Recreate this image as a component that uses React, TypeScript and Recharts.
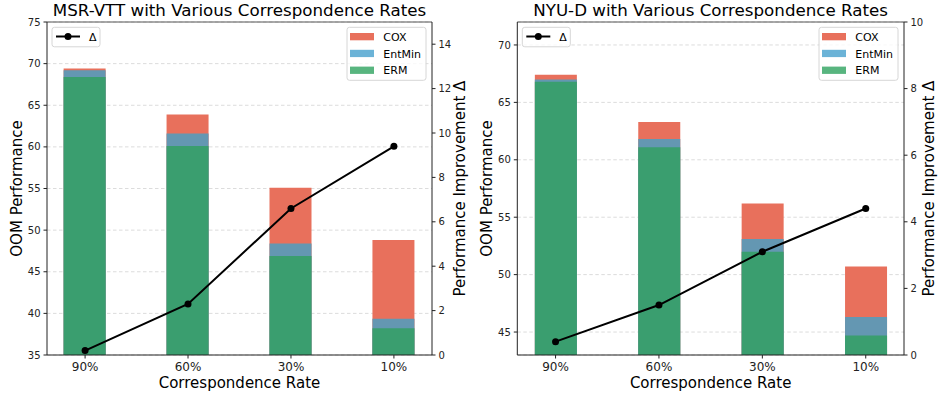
// Two-panel chart: OOM performance by correspondence rate (stacked-look bars) + improvement line
import { ComposedChart, Bar, Line, XAxis, YAxis, CartesianGrid, Legend, ReferenceLine } from 'recharts';

const rates = ['90%', '60%', '30%', '10%'];

// MSR-VTT
const msrErm = [68.4, 60.1, 46.9, 38.2];
const msrEntMin = [69.2, 61.6, 48.4, 39.35];
const msrCox = [69.4, 63.9, 55.1, 48.8];
const msrDelta = [0.2, 2.3, 6.6, 9.4];

// NYU-D
const nyuErm = [66.8, 61.1, 52.0, 44.7];
const nyuEntMin = [67.0, 61.8, 53.1, 46.3];
const nyuCox = [67.4, 63.3, 56.2, 50.7];
const nyuDelta = [0.4, 1.5, 3.1, 4.4];

const msrLeftTicks = [35, 40, 45, 50, 55, 60, 65, 70, 75];
const msrRightTicks = [0, 2, 4, 6, 8, 10, 12, 14];
const nyuLeftTicks = [45, 50, 55, 60, 65, 70];
const nyuRightTicks = [0, 2, 4, 6, 8, 10];

const seriesNames = ['COX', 'EntMin', 'ERM'];
const legendColors = ['#e8705c', '#6bb3d7', '#58b57f'];
const barColors = ['#e8705c', '#6497b2', '#3a9e6f'];

const FONT = '"DejaVu Sans", sans-serif';
const W = 469;
const H = 395;
const BAR = 42;

interface PanelProps {
  title: string;
  erm: number[];
  entMin: number[];
  cox: number[];
  delta: number[];
  leftDomain: [number, number];
  leftTicks: number[];
  rightDomain: [number, number];
  rightTicks: number[];
  plotLeft: number;
  plotRight: number;
  rightLabelOffset: number;
}

function Panel(p: PanelProps) {
  const data = rates.map((r, i) => ({
    x: i,
    rate: r,
    cox: p.cox[i],
    entMin: p.entMin[i],
    erm: p.erm[i],
    delta: p.delta[i],
  }));
  const leftW = 40;
  const rightW = W - p.plotRight;

  const overlay = () => {
    const pl = p.plotLeft;
    const pr = p.plotRight;
    return (
      <svg width={W} height={H} style={{ fontFamily: FONT }}>
        <text x={(pl + pr) / 2} y={16} textAnchor="middle" fontSize={16.7} fill="#000">{p.title}</text>
        <rect x={pl + 5} y={27.3} width={48} height={19.5} rx={2.5} fill="#fff" fillOpacity={0.8} stroke="#d6d6d6" />
        <line x1={pl + 9} x2={pl + 33} y1={36.5} y2={36.5} stroke="#000" strokeWidth={2} />
        <circle cx={pl + 21} cy={36.5} r={3.5} fill="#000" />
        <text x={pl + 42} y={40.5} fontSize={11} fill="#000">Δ</text>
        <rect x={pr - 85} y={27.3} width={79} height={53} rx={2.5} fill="#fff" fillOpacity={0.8} stroke="#d6d6d6" />
        {seriesNames.map((n, i) => (
          <g key={n}>
            <rect x={pr - 82} y={33 + i * 16.8} width={24} height={7.3} fill={legendColors[i]} />
            <text x={pr - 48.7} y={40.7 + i * 16.8} fontSize={11} fill="#000">{n}</text>
          </g>
        ))}
      </svg>
    );
  };

  return (
    <ComposedChart
      width={W}
      height={H}
      data={data}
      margin={{ top: 22, right: 0, bottom: 0, left: p.plotLeft - leftW }}
      barGap={-BAR}
      barSize={BAR}
      style={{ fontFamily: FONT }}
    >
      <CartesianGrid yAxisId="left" vertical={false} stroke="#dcdcdc" strokeDasharray="3.5 2.5" />
      <XAxis
        dataKey="x"
        type="number"
        domain={[-0.37, 3.37]}
        ticks={[0, 1, 2, 3]}
        tickFormatter={(v: number) => rates[v]}
        allowDataOverflow
        height={40}
        tickSize={3.5}
        tickMargin={4}
        stroke="#222"
        tick={{ fontSize: 12, fill: '#222' }}
        label={{ value: 'Correspondence Rate', position: 'insideBottom', offset: 7, fontSize: 15, fill: '#000' }}
      />
      <YAxis
        yAxisId="left"
        domain={p.leftDomain}
        ticks={p.leftTicks}
        allowDataOverflow
        width={leftW}
        tickSize={3.5}
        tickMargin={3}
        stroke="#222"
        tick={{ fontSize: 10, fill: '#222' }}
        label={{
          value: 'OOM Performance',
          angle: -90,
          position: 'insideLeft',
          offset: 9.5,
          fontSize: 15,
          fill: '#000',
          style: { textAnchor: 'middle' },
        }}
      />
      <YAxis
        yAxisId="right"
        orientation="right"
        domain={p.rightDomain}
        ticks={p.rightTicks}
        allowDataOverflow
        width={rightW}
        tickSize={3.5}
        tickMargin={3}
        stroke="#222"
        tick={{ fontSize: 10, fill: '#222' }}
        label={{
          value: 'Performance Improvement Δ',
          angle: -90,
          position: 'insideRight',
          offset: p.rightLabelOffset,
          fontSize: 15,
          fill: '#000',
          style: { textAnchor: 'middle' },
        }}
      />
      <Bar yAxisId="left" dataKey="cox" name="COX" fill={barColors[0]} isAnimationActive={false} />
      <Bar yAxisId="left" dataKey="entMin" name="EntMin" fill={barColors[1]} isAnimationActive={false} />
      <Bar yAxisId="left" dataKey="erm" name="ERM" fill={barColors[2]} isAnimationActive={false} />
      <ReferenceLine yAxisId="left" y={p.leftDomain[1]} stroke="#555" />
      <Line
        yAxisId="right"
        dataKey="delta"
        name="Δ"
        stroke="#000"
        strokeWidth={2}
        dot={{ r: 3.5, fill: '#000', stroke: '#000', strokeWidth: 0 }}
        isAnimationActive={false}
      />
      <Legend
        layout="vertical"
        align="center"
        verticalAlign="middle"
        content={overlay}
        wrapperStyle={{ position: 'absolute', left: 0, top: 0, width: W, height: H, pointerEvents: 'none' }}
      />
    </ComposedChart>
  );
}

export default function App() {
  return (
    <div style={{ position: 'absolute', left: 0, top: 0, width: 938, height: 395, display: 'flex', background: '#fff', fontFamily: FONT }}>
      <Panel
        title="MSR-VTT with Various Correspondence Rates"
        erm={msrErm}
        entMin={msrEntMin}
        cox={msrCox}
        delta={msrDelta}
        leftDomain={[35, 75]}
        leftTicks={msrLeftTicks}
        rightDomain={[0, 15]}
        rightTicks={msrRightTicks}
        plotLeft={47}
        plotRight={432}
        rightLabelOffset={9}
      />
      <Panel
        title="NYU-D with Various Correspondence Rates"
        erm={nyuErm}
        entMin={nyuEntMin}
        cox={nyuCox}
        delta={nyuDelta}
        leftDomain={[43, 72]}
        leftTicks={nyuLeftTicks}
        rightDomain={[0, 10]}
        rightTicks={nyuRightTicks}
        plotLeft={48.3}
        plotRight={435}
        rightLabelOffset={9}
      />
    </div>
  );
}
